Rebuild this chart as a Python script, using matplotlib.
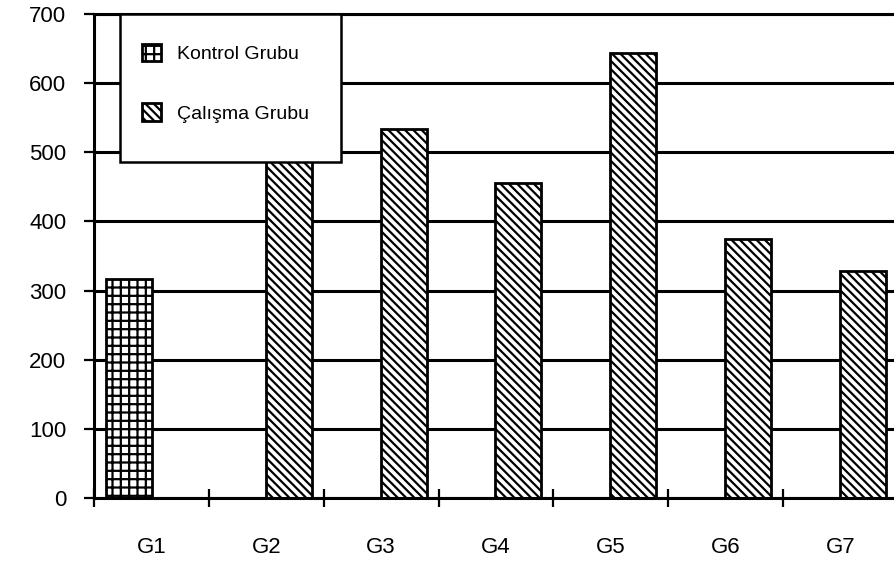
import matplotlib
matplotlib.use("Agg")
import numpy as np
import matplotlib.pyplot as plt
from matplotlib.patches import Rectangle

# --- datos ---
grupos = ["G1", "G2", "G3", "G4", "G5", "G6", "G7"]
kontrol = [317, 0, 0, 0, 0, 0, 0]
calisma = [0, 505, 534, 455, 644, 375, 329]
y_ticks = [0, 100, 200, 300, 400, 500, 600, 700]

plt.rcParams['font.family'] = ['Liberation Sans', 'DejaVu Sans']
plt.rcParams['hatch.linewidth'] = 1.6
plt.rcParams['hatch.color'] = 'black'

fig = plt.figure(figsize=(8.94, 5.65), dpi=100)
ax = fig.add_axes([94 / 894, 1 - 498 / 565, 804 / 894, 484 / 565])

x = np.arange(len(grupos))
off, w = 0.195, 0.40
ax.bar(x - off, kontrol, w, facecolor='white', edgecolor='black',
       linewidth=2.0, hatch='++', label='Kontrol Grubu', zorder=3)
ax.bar(x + off, calisma, w, facecolor='white', edgecolor='black',
       linewidth=2.0, hatch='\\\\\\\\', label='Çalışma Grubu', zorder=3)

ax.set_xlim(-0.5, len(grupos) - 0.5)
ax.set_ylim(0, 700)

# ejes y rejilla
ax.spines['right'].set_visible(False)
for s in ['left', 'bottom', 'top']:
    ax.spines[s].set_linewidth(2.2)
    ax.spines[s].set_zorder(4)
ax.set_yticks(y_ticks)
ax.set_yticklabels([str(v) for v in y_ticks], fontsize=16)
ax.yaxis.grid(True, color='black', linewidth=2.2, zorder=1)
ax.set_axisbelow(True)
ax.tick_params(axis='y', direction='out', length=7, width=1.6, pad=13)

ax.set_xticks(np.arange(-0.5, len(grupos)), labels=[''] * (len(grupos) + 1))
ax.set_xticks(x, labels=grupos, minor=True, fontsize=16)
ax.tick_params(axis='x', which='major', direction='inout', length=13, width=1.6)
ax.tick_params(axis='x', which='minor', length=0, pad=28)

# --- leyenda: marco dibujado aparte para fijar su tamaño ---
marco = Rectangle((120 / 894, 1 - 162 / 565), 221 / 894, 148 / 565,
                  transform=fig.transFigure, facecolor='white', edgecolor='black',
                  linewidth=1.8, zorder=9, clip_on=False)
ax.add_patch(marco)
leg = ax.legend(loc='upper left', bbox_to_anchor=(142 / 894, 1 - 44 / 565),
                bbox_transform=fig.transFigure, fontsize=14, frameon=False,
                borderpad=0, labelspacing=2.05, handlelength=1.0,
                handleheight=1.0, handletextpad=0.8, borderaxespad=0)
leg.set_zorder(10)

fig.savefig("out.png", dpi=100)
